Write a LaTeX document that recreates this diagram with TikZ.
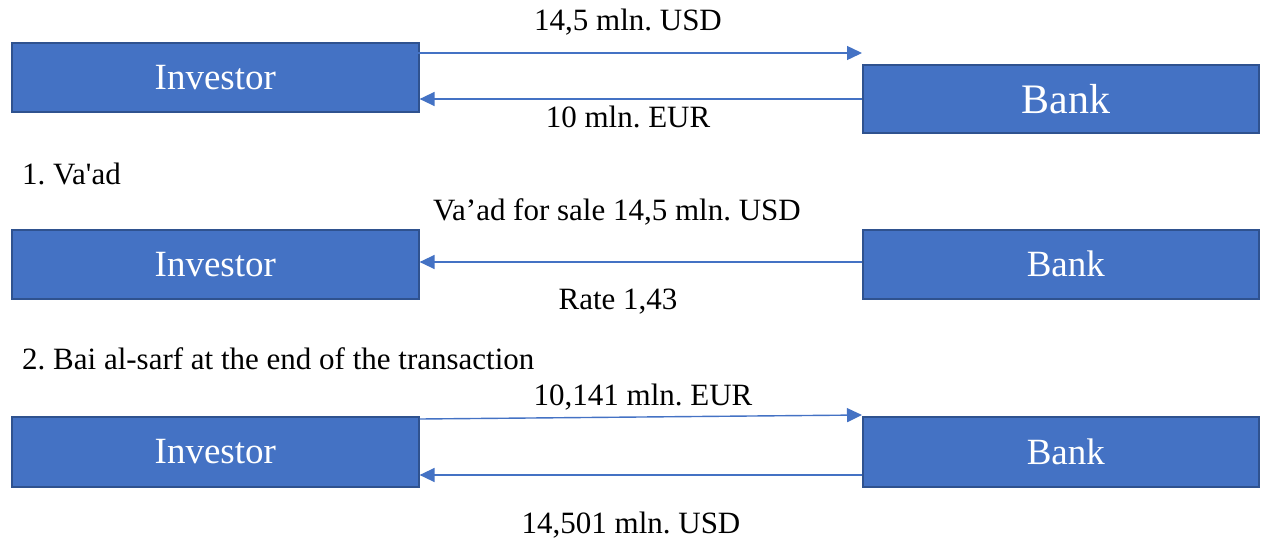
\documentclass[tikz,border=0pt]{standalone}
\usepackage{fontspec}
\setmainfont{Liberation Serif}
\usetikzlibrary{arrows.meta}
\frenchspacing
\definecolor{boxfill}{HTML}{4472C4}
\definecolor{boxline}{HTML}{2F528F}
\begin{document}
\begin{tikzpicture}[x=1pt,y=-1pt,
  party/.style={draw=boxline, line width=1.6pt, fill=boxfill, text=white,
    font=\fontsize{37}{40}\selectfont, anchor=north west, inner sep=0pt},
  flow/.style={draw=boxfill, line width=1.4pt, -{Triangle[length=15pt,width=14pt]}},
  lbl/.style={font=\fontsize{31}{34}\selectfont, text=black, inner sep=0pt},
  head/.style={font=\fontsize{31}{34}\selectfont, text=black, anchor=west, inner sep=0pt}]
\useasboundingbox (0,0) rectangle (1274,541);

% Scheme 0: exchange of principal
\node[party, minimum width=407pt, minimum height=69pt] (inv0) at (11,42) {Investor};
\node[party, minimum width=396pt, minimum height=68pt, font=\fontsize{42}{45}\selectfont] (bank0) at (862,64) {\hspace*{10pt}Bank};
\coordinate (t0) at (862,53);
\coordinate (s0) at (418,53);
\draw[flow] (s0) -- (t0);
\draw[flow] (bank0.west |- 0,99) -- (inv0.east |- 0,99);
\node[lbl] (l0a) at (628,22) {14,5 mln. USD};
\node[lbl] (l0b) at (628,117) {10 mln. EUR};

% Scheme 1: Va'ad
\node[head] (h1) at (22,174) {1. Va\textquotesingle ad};
\node[party, minimum width=407pt, minimum height=69pt] (inv1) at (11,229) {Investor};
\node[party, minimum width=396pt, minimum height=69pt] (bank1) at (862,229) {\hspace*{10pt}Bank};
\draw[flow] (bank1.west |- 0,262) -- (inv1.east |- 0,262);
\node[lbl] (l1a) at (617,212) {Va’ad for sale 14,5 mln. USD};
\node[lbl] (l1b) at (618,302) {Rate 1,43};

% Scheme 2: Bai al-sarf
\node[head] (h2) at (22,359) {2. Bai al-sarf at the end of the transaction};
\node[party, minimum width=407pt, minimum height=70pt] (inv2) at (11,416) {Investor};
\node[party, minimum width=396pt, minimum height=70pt] (bank2) at (862,416) {\hspace*{10pt}Bank};
\draw[flow] (inv2.east |- 0,419) -- (bank2.west |- 0,415);
\draw[flow] (bank2.west |- 0,475) -- (inv2.east |- 0,475);
\node[lbl] (l2a) at (643,397) {10,141 mln. EUR};
\node[lbl] (l2b) at (631,525) {14,501 mln. USD};
\end{tikzpicture}
\end{document}
